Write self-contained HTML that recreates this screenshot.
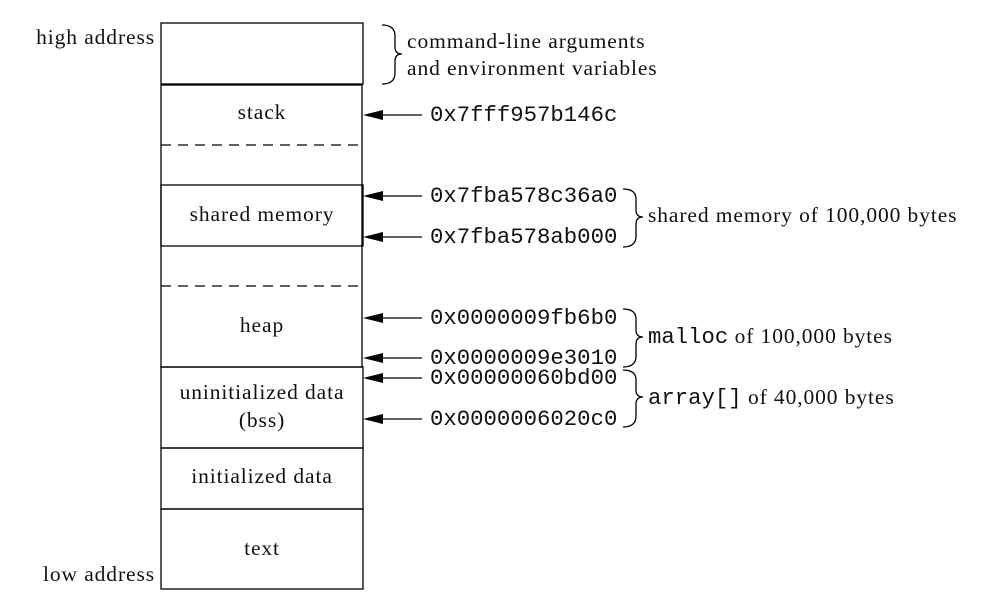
<!DOCTYPE html>
<html><head><meta charset="utf-8"><style>
html,body{margin:0;padding:0;background:#fff}
svg{display:block}
.s{font-family:"Liberation Serif",serif;font-size:21.5px;letter-spacing:0.9px;fill:#111}
.m{font-family:"Liberation Mono",monospace;font-size:22.3px;fill:#111}
</style></head><body>
<svg width="984" height="611" viewBox="0 0 984 611" xmlns="http://www.w3.org/2000/svg">
<g fill="none" stroke="#000" stroke-width="1.3">
<rect x="161" y="23" width="202" height="61"/>
<rect x="161" y="85" width="201" height="282"/>
<line x1="161" y1="145" x2="362" y2="145" stroke-dasharray="10,7"/>
<line x1="161" y1="286" x2="362" y2="286" stroke-dasharray="10,7"/>
<rect x="161" y="185" width="202" height="61"/>
<rect x="161" y="367" width="202" height="81"/>
<rect x="161" y="448" width="202" height="61"/>
<rect x="161" y="509" width="202" height="80"/>
<line x1="422" y1="115" x2="380" y2="115"/>
<line x1="422" y1="196" x2="380" y2="196"/>
<line x1="422" y1="237" x2="380" y2="237"/>
<line x1="422" y1="318" x2="380" y2="318"/>
<line x1="422" y1="358" x2="380" y2="358"/>
<line x1="422" y1="378" x2="380" y2="378"/>
<line x1="422" y1="419" x2="380" y2="419"/>
<path d="M382,25 Q395,25 395,36 L395,47 Q395,54 402,54 Q395,54 395,61 L395,73 Q395,84 382,84"/>
<path d="M623,189 Q636,189 636,199 L636,210 Q636,217 643,217 Q636,217 636,224 L636,236 Q636,247 623,247"/>
<path d="M623,309 Q636,309 636,319 L636,330 Q636,337 643,337 Q636,337 636,344 L636,356 Q636,367 623,367"/>
<path d="M623,370 Q636,370 636,380 L636,390 Q636,397 643,397 Q636,397 636,404 L636,416 Q636,427 623,427"/>
</g>
<g fill="#000">
<path d="M363,115 L383,110 L383,120 Z"/>
<path d="M363,196 L383,191 L383,201 Z"/>
<path d="M363,237 L383,232 L383,242 Z"/>
<path d="M363,318 L383,313 L383,323 Z"/>
<path d="M363,358 L383,353 L383,363 Z"/>
<path d="M363,378 L383,373 L383,383 Z"/>
<path d="M363,419 L383,414 L383,424 Z"/>
</g>
<text class="s" x="155" y="44" text-anchor="end">high address</text>
<text class="s" x="155" y="581" text-anchor="end">low address</text>
<text class="s" x="407" y="48">command-line arguments</text>
<text class="s" x="407" y="75">and environment variables</text>
<text class="s" x="262" y="119" text-anchor="middle">stack</text>
<text class="s" x="262" y="221" text-anchor="middle">shared memory</text>
<text class="s" x="262" y="332" text-anchor="middle">heap</text>
<text class="s" x="262" y="399" text-anchor="middle">uninitialized data</text>
<text class="s" x="262" y="427" text-anchor="middle">(bss)</text>
<text class="s" x="262" y="483" text-anchor="middle">initialized data</text>
<text class="s" x="262" y="555" text-anchor="middle">text</text>
<text class="m" x="430" y="121">0x7fff957b146c</text>
<text class="m" x="430" y="202">0x7fba578c36a0</text>
<text class="m" x="430" y="243">0x7fba578ab000</text>
<text class="m" x="430" y="324">0x0000009fb6b0</text>
<text class="m" x="430" y="364">0x0000009e3010</text>
<text class="m" x="430" y="384">0x00000060bd00</text>
<text class="m" x="430" y="425">0x0000006020c0</text>
<text class="s" x="648" y="222">shared memory of 100,000 bytes</text>
<text x="648" y="343"><tspan class="m">malloc</tspan><tspan class="s"> of 100,000 bytes</tspan></text>
<text x="648" y="404"><tspan class="m">array[]</tspan><tspan class="s"> of 40,000 bytes</tspan></text>
</svg>
</body></html>
